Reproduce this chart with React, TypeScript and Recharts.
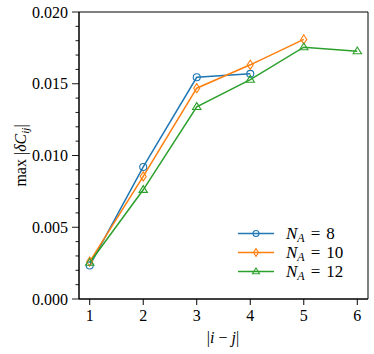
import { LineChart, Line, XAxis, YAxis, ReferenceArea, Legend, Label } from 'recharts';

const distances = [1, 2, 3, 4, 5, 6];
const maxDeltaNA8 = [0.00233, 0.0092, 0.01545, 0.01569, null, null];
const maxDeltaNA10 = [0.0026, 0.00854, 0.01469, 0.01632, 0.01809, null];
const maxDeltaNA12 = [0.00253, 0.00761, 0.01339, 0.01529, 0.01755, 0.01727];

const xTicks = [1, 2, 3, 4, 5, 6];
const yMajorTicks = [0, 0.005, 0.01, 0.015, 0.02];
const yMinorTicks = [
  0.001, 0.002, 0.003, 0.004, 0.006, 0.007, 0.008, 0.009,
  0.011, 0.012, 0.013, 0.014, 0.016, 0.017, 0.018, 0.019,
];

const seriesKeys = ['na8', 'na10', 'na12'];
const seriesLabels = ['8', '10', '12'];
const seriesColors = ['#1f77b4', '#ff7f0e', '#2ca02c'];
const seriesMarkers = ['circle', 'diamond', 'triangle'];

const data = distances.map((d, i) => ({
  distance: d,
  na8: maxDeltaNA8[i],
  na10: maxDeltaNA10[i],
  na12: maxDeltaNA12[i],
}));

const FONT = '"Liberation Serif", "DejaVu Serif", serif';

function Marker({ shape, cx, cy, color, s = 1 }: { shape: string; cx: number; cy: number; color: string; s?: number }) {
  if (shape === 'circle') {
    return <circle cx={cx} cy={cy} r={3.5 * s} fill="none" stroke={color} strokeWidth={1.1} />;
  }
  if (shape === 'diamond') {
    const w = 3 * s, h = 4.6 * s;
    return (
      <polygon
        points={`${cx},${cy - h} ${cx + w},${cy} ${cx},${cy + h} ${cx - w},${cy}`}
        fill="none" stroke={color} strokeWidth={1.1}
      />
    );
  }
  const a = 4.2 * s;
  return (
    <polygon
      points={`${cx},${cy - a} ${cx + a},${cy + a * 0.62} ${cx - a},${cy + a * 0.62}`}
      fill="none" stroke={color} strokeWidth={1.1}
    />
  );
}

const makeDot = (shape: string, color: string) => (props: any) => {
  const { cx, cy, index, value } = props;
  if (value == null || cx == null || cy == null) return <g key={`e-${index}`} />;
  return <Marker key={`m-${index}`} shape={shape} cx={cx} cy={cy} color={color} />;
};

function YTick(props: any) {
  const { x, y, payload } = props;
  const major = yMajorTicks.some((t) => Math.abs(t - payload.value) < 1e-9);
  return (
    <g>
      <line x1={x} x2={x - (major ? 7 : 3.5)} y1={y} y2={y} stroke="#000" strokeWidth={0.9} />
      {major && (
        <text x={x - 11} y={y} dy="0.35em" textAnchor="end" fontSize={16} fontFamily={FONT} fill="#000">
          {payload.value.toFixed(3)}
        </text>
      )}
    </g>
  );
}

function LegendBox() {
  return (
    <div style={{ fontFamily: FONT, fontSize: 17, color: '#000' }}>
      {seriesLabels.map((lab, i) => (
        <div key={lab} style={{ display: 'flex', alignItems: 'center', height: 19 }}>
          <svg width={40} height={19} style={{ display: 'block' }}>
            <line x1={2} x2={38} y1={9.5} y2={9.5} stroke={seriesColors[i]} strokeWidth={1.5} />
            <Marker shape={seriesMarkers[i]} cx={20} cy={9.5} color={seriesColors[i]} s={0.85} />
          </svg>
          <span style={{ marginLeft: 10, whiteSpace: 'nowrap', lineHeight: '19px' }}>
            <i>N</i>
            <sub style={{ fontSize: 12, fontStyle: 'italic', verticalAlign: '-3px', lineHeight: 0 }}>A</sub>
            <span style={{ margin: '0 6px' }}>=</span>
            {lab}
          </span>
        </div>
      ))}
    </div>
  );
}

export default function App() {
  return (
    <div style={{ position: 'absolute', left: 0, top: 0, background: '#fff' }}>
      <LineChart width={374} height={354} data={data} margin={{ top: 12, right: 6, bottom: 0, left: 0 }}>
        <XAxis
          dataKey="distance"
          type="number"
          domain={[0.8, 6.2]}
          ticks={xTicks}
          height={55}
          tickSize={6}
          tickMargin={5}
          stroke="#000"
          tick={{ fill: '#000', fontSize: 16, fontFamily: FONT }}
          allowDataOverflow
        >
          <Label
            content={() => (
              <text x={223} y={343} textAnchor="middle" fontSize={16} fontFamily={FONT} fill="#000">
                |<tspan fontStyle="italic">i</tspan> − <tspan fontStyle="italic">j</tspan>|
              </text>
            )}
          />
        </XAxis>
        <YAxis
          type="number"
          domain={[0, 0.02]}
          ticks={[...yMajorTicks, ...yMinorTicks]}
          width={79}
          tickSize={0}
          tickMargin={0}
          tickLine={false}
          stroke="#000"
          tick={<YTick />}
          interval={0}
          allowDataOverflow
        >
          <Label
            content={() => (
              <text
                transform="translate(26,155.5) rotate(-90)"
                textAnchor="middle"
                fontSize={16}
                fontFamily={FONT}
                fill="#000"
              >
                max |<tspan fontStyle="italic">δC</tspan>
                <tspan fontStyle="italic" fontSize={11} dy={3}>ij</tspan>
                <tspan dy={-3}>|</tspan>
              </text>
            )}
          />
        </YAxis>
        <ReferenceArea x1={0.8} x2={6.2} y1={0} y2={0.02} fill="none" stroke="#000" strokeWidth={1} ifOverflow="visible" />
        <Legend
          layout="vertical"
          align="center"
          verticalAlign="middle"
          content={<LegendBox />}
          wrapperStyle={{ left: 236, top: 224, width: 134, height: 57 }}
        />
        {seriesKeys.map((k, i) => (
          <Line
            key={k}
            dataKey={k}
            stroke={seriesColors[i]}
            strokeWidth={1.5}
            dot={makeDot(seriesMarkers[i], seriesColors[i])}
            activeDot={false}
            isAnimationActive={false}
          />
        ))}
      </LineChart>
    </div>
  );
}
